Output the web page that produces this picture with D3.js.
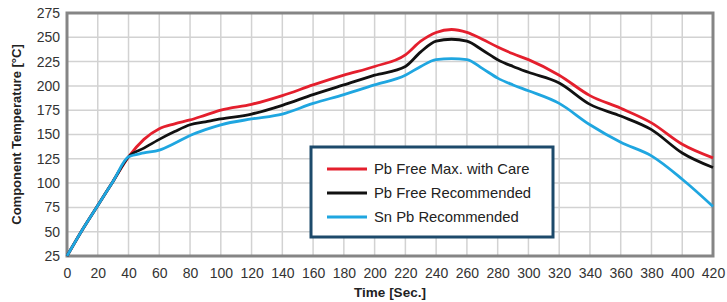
<!DOCTYPE html>
<html>
<head>
<meta charset="utf-8">
<script src="https://cdn.jsdelivr.net/npm/d3@7"></script>
<style>
  body { margin: 0; background: #fff; }
  text { font-family: "Liberation Sans", Arial, sans-serif; }
</style>
</head>
<body>
<div id="chart"></div>
<script>
// time points [s] and temperatures [°C]
const times = [0, 10, 20, 30, 40, 50, 60, 70, 80, 90, 100, 120, 140, 160, 180, 200, 220, 230, 240, 250, 260, 270, 280, 290, 300, 320, 340, 360, 380, 400, 420];
const pbFreeMax = [25, 52, 77, 102, 127, 145, 156, 161, 165, 170, 175, 181, 190, 201, 211, 220, 232, 246, 255, 258, 255, 248, 240, 233, 227, 211, 190, 177, 162, 140, 126];
const pbFreeRec = [25, 52, 77, 102, 127, 136, 145, 153, 160, 163, 166, 171, 180, 191, 201, 211, 220, 235, 246, 248, 246, 237, 227, 220, 214, 203, 181, 169, 155, 131, 116];
const snPbRec   = [25, 52, 77, 102, 127, 131, 134, 141, 149, 155, 160, 166, 171, 182, 191, 201, 211, 220, 227, 228, 227, 218, 208, 201, 195, 182, 160, 142, 128, 104, 76];

const seriesNames = ["Pb Free Max. with Care", "Pb Free Recommended", "Sn Pb Recommended"];
const seriesColors = ["#e41f2d", "#111111", "#1fa6e0"];
const seriesValues = [pbFreeMax, pbFreeRec, snPbRec];

const yTicks = d3.range(25, 276, 25);
const xTicks = d3.range(0, 421, 20);

const W = 727, H = 302;
const margin = {top: 13, right: 14, bottom: 46, left: 67};
const width = W - margin.left - margin.right,
      height = H - margin.top - margin.bottom;

const svg = d3.select("#chart").append("svg")
  .attr("width", W)
  .attr("height", H);

const g = svg.append("g")
  .attr("transform", `translate(${margin.left},${margin.top})`);

const x = d3.scaleLinear().domain([0, 420]).range([0, width]);
const y = d3.scaleLinear().domain([25, 275]).range([height, 0]);

// grid
g.append("g")
  .selectAll("line.vx")
  .data(xTicks)
  .join("line")
    .attr("x1", d => x(d)).attr("x2", d => x(d))
    .attr("y1", 0).attr("y2", height)
    .attr("stroke", "#d2d2d2").attr("stroke-width", 1.5);
g.append("g")
  .selectAll("line.hy")
  .data(yTicks)
  .join("line")
    .attr("x1", 0).attr("x2", width)
    .attr("y1", d => y(d)).attr("y2", d => y(d))
    .attr("stroke", "#d2d2d2").attr("stroke-width", 1.5);

// axes (labels only)
const xAxis = g.append("g")
  .attr("transform", `translate(0,${height})`)
  .call(d3.axisBottom(x).tickValues(xTicks).tickSize(0).tickPadding(12));
const yAxis = g.append("g")
  .call(d3.axisLeft(y).tickValues(yTicks).tickSize(0).tickPadding(7));
[xAxis, yAxis].forEach(a => {
  a.select(".domain").remove();
  a.selectAll("text")
    .style("font-size", "14px")
    .style("font-family", "'Liberation Sans', Arial, sans-serif")
    .attr("fill", "#333");
});

// frame
g.append("rect")
  .attr("width", width).attr("height", height)
  .attr("fill", "none")
  .attr("stroke", "#858585")
  .attr("stroke-width", 3);

// lines
const line = d3.line()
  .x((d, i) => x(times[i]))
  .y(d => y(d))
  .curve(d3.curveMonotoneX);

seriesValues.forEach((vals, k) => {
  g.append("path")
    .datum(vals)
    .attr("fill", "none")
    .attr("stroke", seriesColors[k])
    .attr("stroke-width", 2.8)
    .attr("stroke-linejoin", "round")
    .attr("d", line);
});

// legend
const lg = svg.append("g").attr("transform", "translate(311,147)");
lg.append("rect")
  .attr("width", 242).attr("height", 90)
  .attr("fill", "#fff")
  .attr("stroke", "#1d4a6b")
  .attr("stroke-width", 3);
seriesNames.forEach((name, k) => {
  const yy = 22 + k * 24;
  lg.append("line")
    .attr("x1", 16).attr("x2", 56)
    .attr("y1", yy).attr("y2", yy)
    .attr("stroke", seriesColors[k])
    .attr("stroke-width", 3);
  lg.append("text")
    .attr("x", 63).attr("y", yy + 5)
    .style("font-size", "14.8px")
    .attr("fill", "#222")
    .text(name);
});

// axis titles
svg.append("text")
  .attr("x", margin.left + width / 2)
  .attr("y", 297)
  .attr("text-anchor", "middle")
  .style("font-size", "13.5px")
  .style("font-weight", "bold")
  .attr("fill", "#222")
  .text("Time [Sec.]");

svg.append("text")
  .attr("transform", `translate(21,${margin.top + height / 2}) rotate(-90)`)
  .attr("text-anchor", "middle")
  .style("font-size", "13px")
  .style("font-weight", "bold")
  .attr("fill", "#222")
  .text("Component Temperature [°C]");
</script>
</body>
</html>
